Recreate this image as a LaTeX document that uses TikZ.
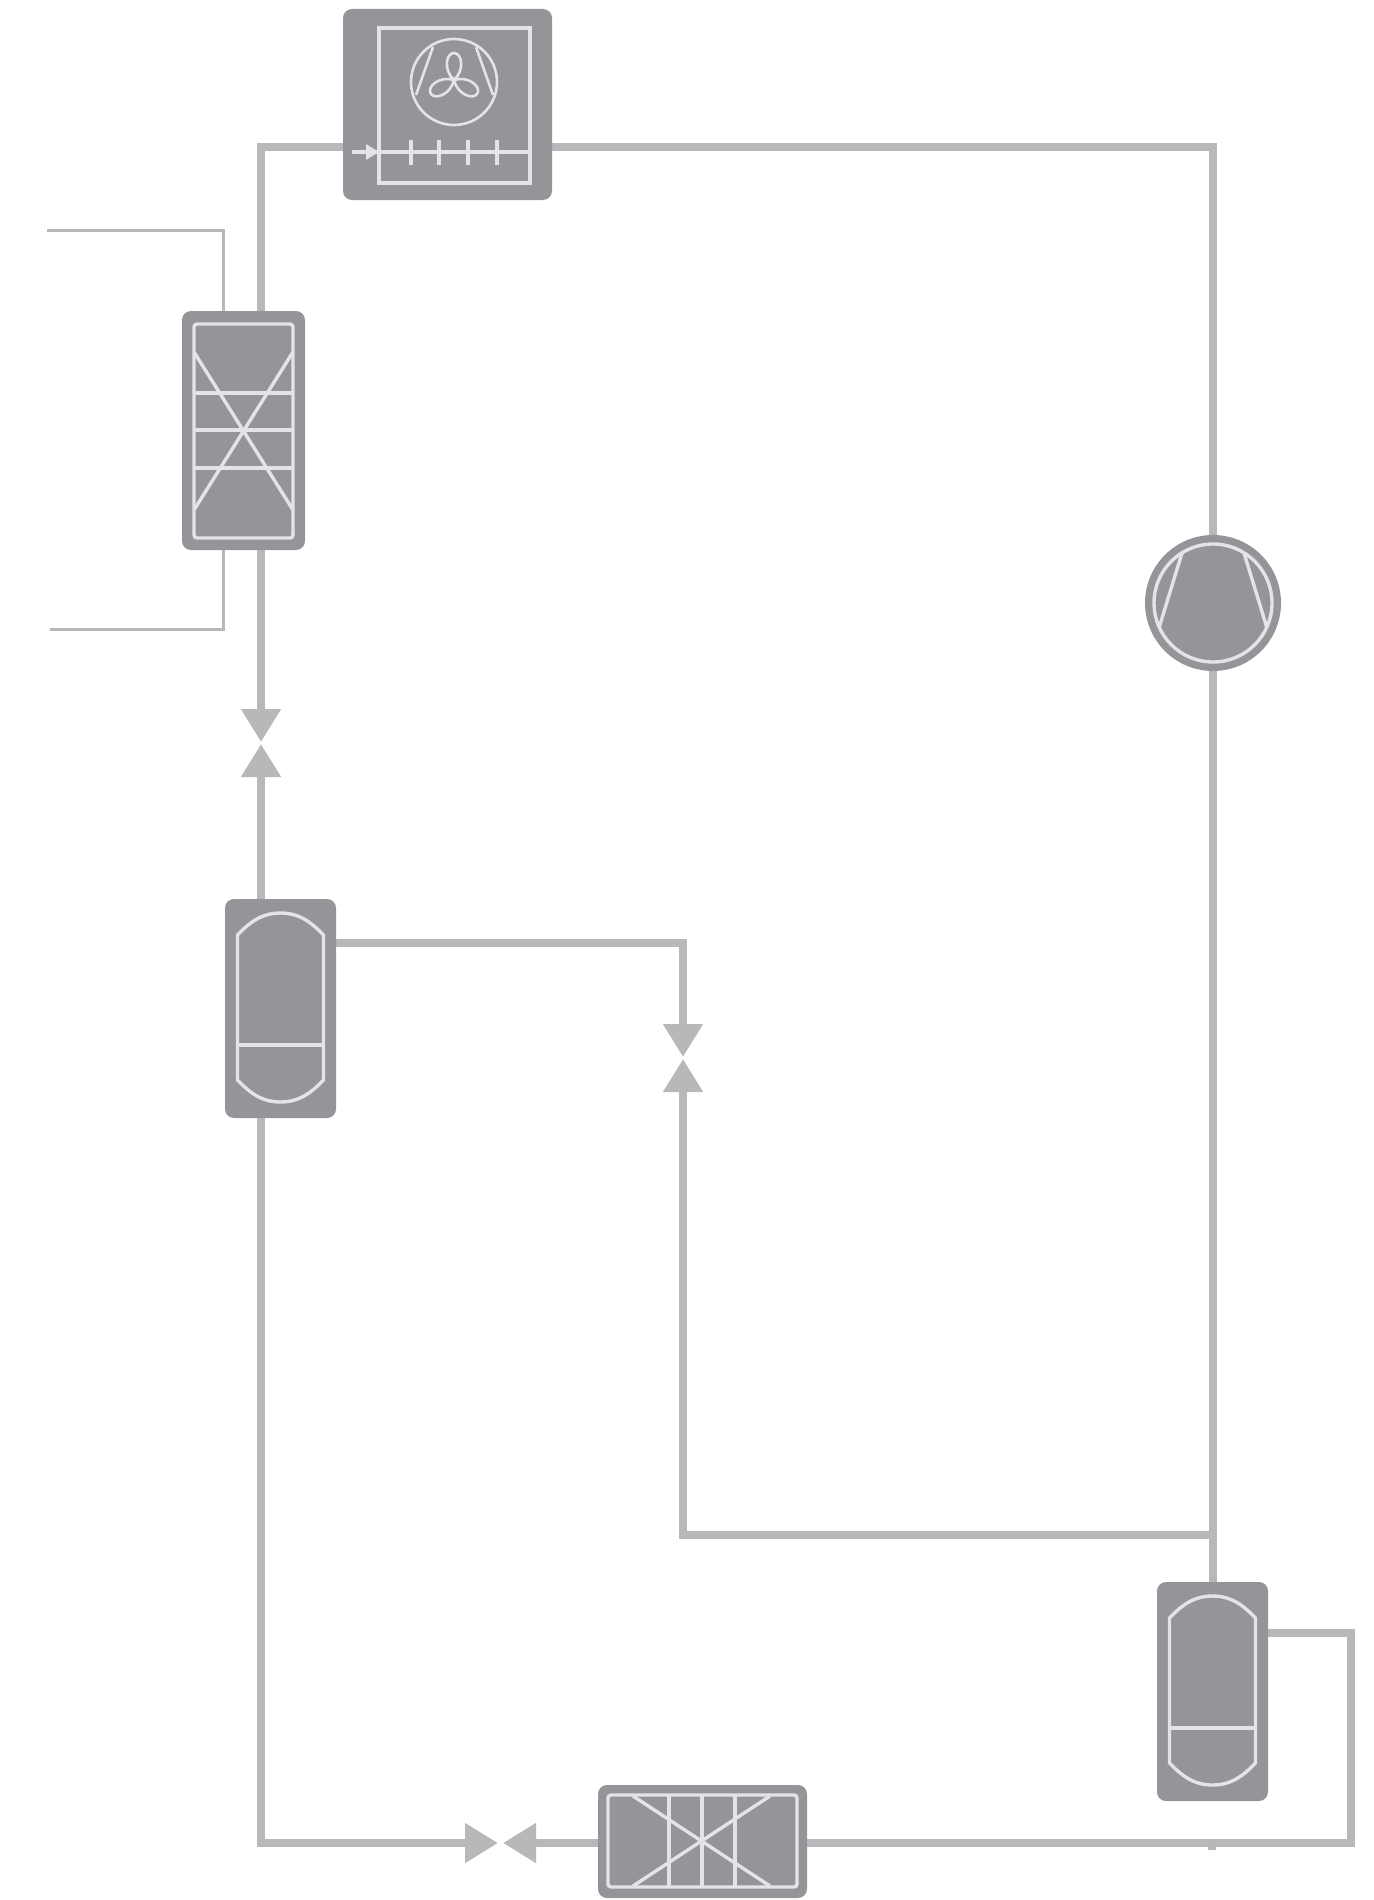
\documentclass[tikz,border=0pt]{standalone}
\usetikzlibrary{arrows.meta,backgrounds}
\definecolor{pipecol}{HTML}{B7B8BA}
\definecolor{boxcol}{HTML}{939598}
\definecolor{artcol}{HTML}{E3E4E5}
\tikzset{
  x=1pt,y=-1pt,
  pipe/.style={draw=pipecol,line width=8pt,line join=miter},
  thinpipe/.style={draw=pipecol,line width=3pt},
  valvehead/.style={-{Triangle[width=38pt,length=33pt,fill=pipecol]}},
  unitbox/.style={fill=boxcol,rounded corners=9pt,inner sep=0pt,outer sep=0pt},
  art/.style={draw=artcol,line width=3.4pt},
  thinart/.style={draw=artcol,line width=2.6pt},
  receiverart/.pic={
    \draw[art] (-43,-73.5) .. controls (-31,-86) and (-19,-95.5) .. (0,-95.5)
      .. controls (19,-95.5) and (31,-86) .. (43,-73.5) -- (43,71.5)
      .. controls (31,84) and (19,93.5) .. (0,93.5)
      .. controls (-19,93.5) and (-31,84) .. (-43,71.5) -- cycle;
    \draw[art] (-43,36.5) -- (43,36.5);
  }
}
\begin{document}
\begin{tikzpicture}
\useasboundingbox (0,0) rectangle (1373,1900);
% units
\node[unitbox,minimum width=209pt,minimum height=191pt] (fan) at (447.5,104.5) {};
\node[unitbox,minimum width=123pt,minimum height=239pt] (hxl) at (243.5,430.5) {};
\node[unitbox,minimum width=111pt,minimum height=219pt] (recl) at (280.5,1008.5) {};
\node[unitbox,minimum width=111pt,minimum height=219pt] (recr) at (1212.5,1691.5) {};
\node[unitbox,minimum width=209pt,minimum height=113pt] (hxb) at (702.5,1841.5) {};
\node[fill=boxcol,circle,minimum size=136pt,inner sep=0pt,outer sep=0pt] (comp) at (1213,603) {};
% fan unit art
\draw[art] (379,28) rectangle (530,183);
\draw[art] (352,152) -- (530,152);
\fill[artcol] (366,144) -- (379,152) -- (366,160) -- cycle;
\foreach \tx in {411,439,468,497}{\draw[art] (\tx,140) -- (\tx,165);}
\draw[thinart] (454,82) circle (43);
\draw[thinart] (433,47) -- (416,95);
\draw[thinart] (476,47) -- (493,95);
\foreach \ang in {0,120,240}{
  \draw[thinart,rotate around={\ang:(454,80)}] (454,80) .. controls (443,70) and (446,53) .. (454,53) .. controls (462,53) and (465,70) .. (454,80);
}
% left exchanger art
\draw[art,rounded corners=3pt] (194,324) rectangle (293,538);
\foreach \ty in {393,430,468}{\draw[art] (194,\ty) -- (293,\ty);}
\draw[art] (194,352) -- (293,510);
\draw[art] (293,352) -- (194,510);
% bottom exchanger art
\draw[art,rounded corners=3pt] (608,1795) rectangle (797,1887);
\foreach \tx in {669,702,735}{\draw[art] (\tx,1795) -- (\tx,1887);}
\draw[art] (633,1796) -- (770,1886);
\draw[art] (770,1796) -- (633,1886);
% compressor art
\draw[art] (comp.center) circle (59);
\draw[art] (1182,553) -- (1159,628);
\draw[art] (1244,553) -- (1267,628);
% receivers art
\pic at (recl.center) {receiverart};
\pic at (recr.center) {receiverart};
% free ends and corners
\coordinate (thinA) at (47,230);
\coordinate (thinB) at (50,629);
\coordinate (vAtop) at (261,742);
\coordinate (vAbot) at (261,744);
\coordinate (vBtop) at (683,1057);
\coordinate (vBbot) at (683,1059);
\coordinate (vCleft) at (498,1843);
\coordinate (vCright) at (503,1843);
\begin{scope}[on background layer]
  \draw[thinpipe] (thinA) -| (hxl.north -| 223,0);
  \draw[thinpipe] (thinB) -| (hxl.south -| 223,0);
  \draw[pipe] (fan.west |- 0,147) -| (hxl.north -| vAtop);
  \draw[pipe] (fan.east |- 0,147) -| (comp.north);
  \draw[pipe] (comp.south) -- (recr.north -| comp.south);
  \draw[pipe,valvehead] (hxl.south -| vAtop) -- (vAtop);
  \draw[pipe,valvehead] (recl.north -| vAbot) -- (vAbot);
  \draw[pipe,valvehead] (recl.east |- 0,943) -| (vBtop);
  \draw[pipe,valvehead] (1212,1535) -| (vBbot);
  \draw[pipe,valvehead] (recl.south -| vAbot) |- (vCleft);
  \draw[pipe,valvehead] (hxb.west |- vCright) -- (vCright);
  \draw[pipe] (recr.east |- 0,1633) -| (1351,1843) -- (hxb.east |- vCright);
  \draw[pipe] (1212,1843) -- (1212,1850);
\end{scope}
\end{tikzpicture}
\end{document}
